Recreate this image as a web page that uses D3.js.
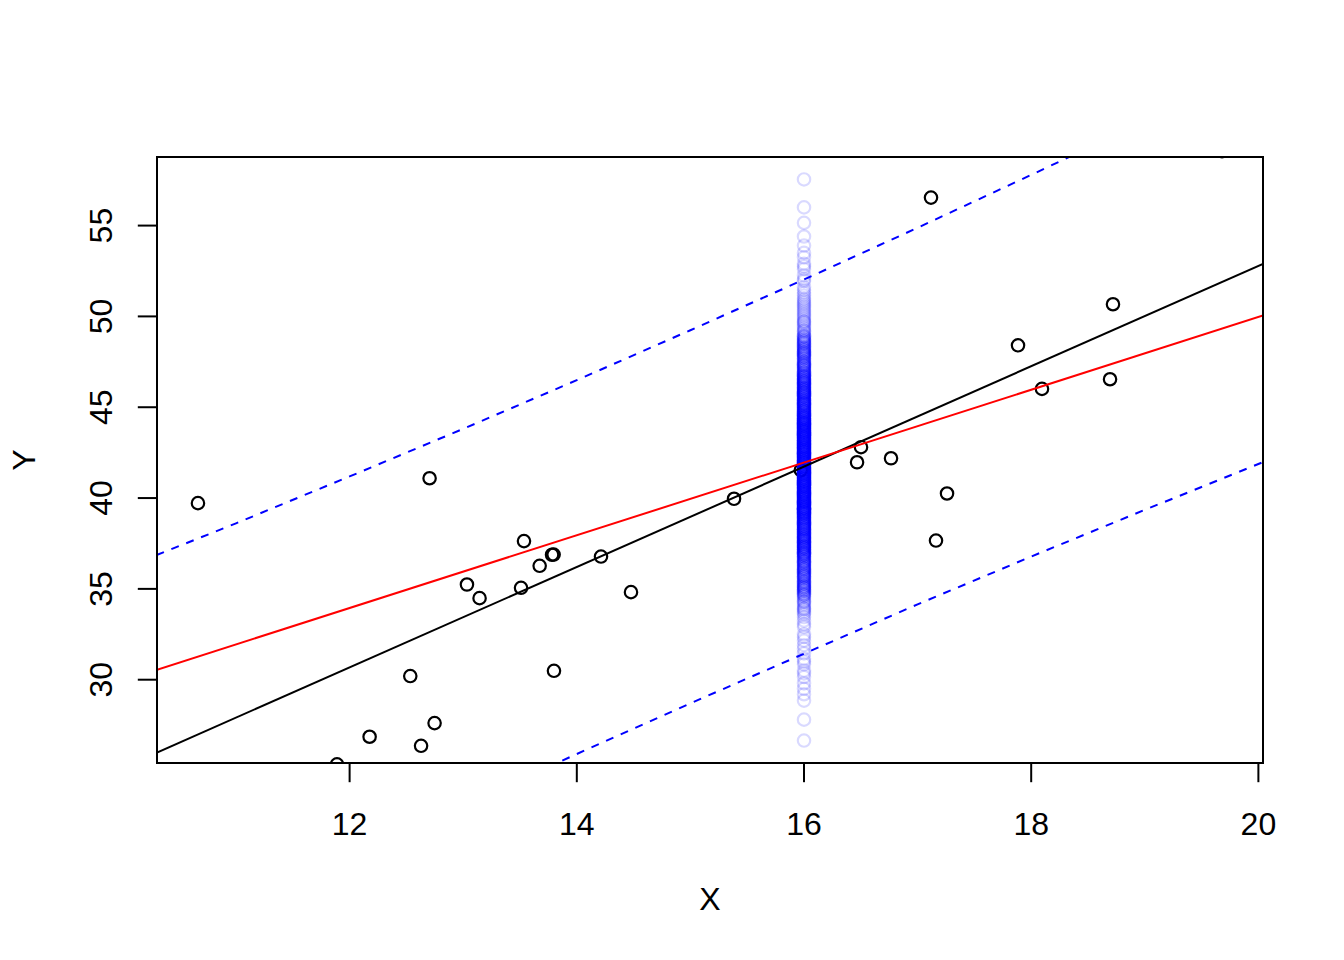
<!DOCTYPE html>
<html>
<head>
<meta charset="utf-8">
<script src="https://cdn.jsdelivr.net/npm/d3@7"></script>
<style>
html, body { margin: 0; padding: 0; background: #ffffff; }
svg { display: block; }
</style>
</head>
<body>
<svg id="chart" width="1344" height="960"></svg>
<script>
// ---------------- data ----------------
const obsX = [10.665, 12.704, 13.033, 13.144, 12.534, 12.176, 12.748, 12.629, 11.889, 13.535,
              13.509, 13.673, 13.782, 13.796, 14.213, 14.477, 13.799, 15.384, 15.972, 17.118,
              18.720, 17.884, 18.095, 18.694, 16.502, 16.467, 16.766, 17.259, 17.162, 19.680];
const obsY = [39.72, 41.09, 35.24, 34.49, 30.20, 26.86, 27.61, 26.36, 25.34, 37.63,
              35.06, 36.27, 36.88, 36.89, 36.78, 34.82, 30.49, 39.96, 41.54, 56.54,
              50.67, 48.41, 46.01, 46.54, 42.80, 41.97, 42.19, 40.25, 37.66, 59.10];

// imputed values, all drawn at X = 16 (value levels and how many points sit at each)
const imputedX = 16;
const imputedY = [
  33.6,33.7,33.8,33.9,34.0,34.1,34.2,34.3,34.4,34.5,34.6,
  34.7,34.8,34.9,35.0,35.1,35.2,35.3,35.4,35.5,35.6,35.7,35.8,35.9,36.0,36.1,36.2,36.3,36.4,36.5,36.6,36.7,36.8,
  36.9,37.0,37.1,37.2,37.3,37.4,37.5,37.6,37.7,37.8,37.9,38.0,38.1,38.2,38.3,38.4,38.5,38.6,38.7,38.8,38.9,39.0,39.1,
  39.2,39.3,39.4,39.5,39.6,39.7,39.8,39.9,40.0,40.1,40.2,40.3,40.4,40.5,40.6,40.7,40.8,40.9,41.0,41.1,41.2,41.3,41.4,41.5,41.6,41.7,41.8,41.9,
  42.0,42.1,42.2,42.3,42.4,42.5,42.6,42.7,42.8,42.9,43.0,43.1,43.2,43.3,43.4,43.5,43.6,43.7,43.8,43.9,44.0,44.1,44.2,44.3,44.4,
  44.5,44.6,44.7,44.8,44.9,45.0,45.1,45.2,45.3,45.4,45.5,45.6,45.7,45.8,45.9,46.0,46.1,46.2,46.3,46.4,46.5,46.6,46.7,
  46.8,46.9,47.0,47.1,47.2,47.3,47.4,47.5,47.6,47.7,47.8,47.9,48.0,48.1,48.2,48.3,48.4,48.5,48.6,48.7,48.8,48.9,
  49.0,49.1,49.2,49.3,49.4,49.5,49.6,49.7,49.8,49.9,50.0,50.1,50.2,50.3,50.4,50.5,50.6,50.7,50.8,50.9,51.0
];
const imputedCount = [
  1,1,1,2,1,1,1,2,1,1,2,
  3,2,3,3,4,3,3,3,2,3,4,3,3,3,4,3,3,3,4,3,3,4,
  5,5,4,5,6,5,5,5,5,6,5,5,4,5,6,5,5,6,5,5,6,5,6,
  7,7,8,7,6,7,8,7,7,7,8,7,7,6,7,8,7,7,7,8,7,7,7,8,7,7,6,7,
  8,7,7,7,8,7,7,7,8,7,6,7,7,8,7,7,7,8,7,7,7,8,7,6,7,
  6,5,5,6,5,5,5,6,5,5,4,5,5,6,5,5,5,4,5,5,5,4,5,
  3,4,3,3,3,4,3,3,2,3,3,3,4,3,3,3,2,3,3,3,2,3,
  1,1,2,1,1,1,1,2,1,1,1,1,1,1,1,1,1,1,1,1,1
];
const imputedTailY = [57.54, 56.00, 55.15, 54.40, 53.90, 53.50, 53.25, 52.90, 52.75, 52.60,
                      52.25, 52.05, 51.95, 51.60, 51.45, 51.30, 51.15,
                      26.65, 27.80, 28.85, 29.20, 29.50, 29.80, 30.15, 30.35, 30.50, 30.85,
                      31.00, 31.15, 31.45, 31.70, 31.90, 32.15, 32.35, 32.50, 32.90, 33.05, 33.25, 33.45];

// straight fitted lines (black and red)
const lineColors = ["#000000", "#ff0000"];
const lineIntercepts = [-2.478, 9.91];
const lineSlopes = [2.763, 2.003];

// dashed prediction band (blue)
const bandX = [10.3, 11, 12, 13, 14, 15, 16, 17, 18, 19, 20.05];
const bandUpper = [36.86, 38.61, 41.19, 43.81, 46.49, 49.24, 52.03, 54.88, 57.79, 60.74, 63.90];
const bandLower = [15.10, 17.21, 20.17, 23.07, 25.91, 28.70, 31.43, 34.15, 36.78, 39.35, 42.00];

const xTicks = [12, 14, 16, 18, 20];
const yTicks = [30, 35, 40, 45, 50, 55];
const xLabel = "X";
const yLabel = "Y";

// ---------------- layout ----------------
const W = 1344, H = 960;
const L = 157, R = 1263, T = 157, B = 763;
const FONT = "Arial, 'Liberation Sans', Helvetica, sans-serif";
const FS = 32;
const PR = 6.2;

const allImputed = imputedY.concat(imputedTailY);
const xr = d3.extent(obsX.concat([imputedX]));
const yr = d3.extent(allImputed);
const xPad = (xr[1] - xr[0]) * 0.04, yPad = (yr[1] - yr[0]) * 0.04;
const x = d3.scaleLinear().domain([xr[0] - xPad, xr[1] + xPad]).range([L, R]);
const y = d3.scaleLinear().domain([yr[0] - yPad, yr[1] + yPad]).range([B, T]);

const svg = d3.select("#chart");
svg.append("rect").attr("width", W).attr("height", H).attr("fill", "#ffffff");

svg.append("defs").append("clipPath").attr("id", "plotclip")
  .append("rect").attr("x", L).attr("y", T).attr("width", R - L).attr("height", B - T);

const plot = svg.append("g").attr("clip-path", "url(#plotclip)");

// observed points
plot.append("g").selectAll("circle").data(obsX.map((v, i) => [v, obsY[i]])).join("circle")
  .attr("cx", d => x(d[0])).attr("cy", d => y(d[1])).attr("r", PR)
  .attr("fill", "none").attr("stroke", "#000000").attr("stroke-width", 2.2);

// imputed points
const impPts = [];
imputedY.forEach((v, i) => { const n = imputedCount[i] || 0; for (let k = 0; k < n; k++) impPts.push(v); });
imputedTailY.forEach(v => impPts.push(v));
plot.append("g").selectAll("circle").data(impPts).join("circle")
  .attr("cx", x(imputedX)).attr("cy", d => y(d)).attr("r", PR)
  .attr("fill", "none").attr("stroke", "rgba(0,0,255,0.15)").attr("stroke-width", 2.2);

// fitted straight lines
const xd = x.domain();
lineIntercepts.forEach((a, i) => {
  const b = lineSlopes[i];
  plot.append("line")
    .attr("x1", x(xd[0])).attr("y1", y(a + b * xd[0]))
    .attr("x2", x(xd[1])).attr("y2", y(a + b * xd[1]))
    .attr("stroke", lineColors[i]).attr("stroke-width", 2);
});

// dashed band
const bandLine = d3.line().x(d => x(d[0])).y(d => y(d[1]));
[bandUpper, bandLower].forEach(arr => {
  plot.append("path").datum(bandX.map((v, i) => [v, arr[i]]))
    .attr("d", bandLine).attr("fill", "none").attr("stroke", "#0000ff")
    .attr("stroke-width", 2).attr("stroke-dasharray", "8,8");
});

// box
svg.append("rect").attr("x", L).attr("y", T).attr("width", R - L).attr("height", B - T)
  .attr("fill", "none").attr("stroke", "#000000").attr("stroke-width", 2);

// x axis
const TL = 19.2;
const gx = svg.append("g");
gx.append("line").attr("x1", x(xTicks[0])).attr("x2", x(xTicks[xTicks.length - 1]))
  .attr("y1", B).attr("y2", B).attr("stroke", "#000").attr("stroke-width", 2);
xTicks.forEach(t => {
  gx.append("line").attr("x1", x(t)).attr("x2", x(t)).attr("y1", B).attr("y2", B + TL)
    .attr("stroke", "#000").attr("stroke-width", 2);
  gx.append("text").attr("x", x(t)).attr("y", 834.5).attr("text-anchor", "middle")
    .attr("font-family", FONT).attr("font-size", FS).attr("fill", "#000").text(t);
});

// y axis
const gy = svg.append("g");
gy.append("line").attr("y1", y(yTicks[0])).attr("y2", y(yTicks[yTicks.length - 1]))
  .attr("x1", L).attr("x2", L).attr("stroke", "#000").attr("stroke-width", 2);
yTicks.forEach(t => {
  gy.append("line").attr("y1", y(t)).attr("y2", y(t)).attr("x1", L).attr("x2", L - TL)
    .attr("stroke", "#000").attr("stroke-width", 2);
  gy.append("text").attr("transform", `translate(111.5,${y(t)}) rotate(-90)`)
    .attr("text-anchor", "middle")
    .attr("font-family", FONT).attr("font-size", FS).attr("fill", "#000").text(t);
});

// axis titles
svg.append("text").attr("x", (L + R) / 2).attr("y", 910).attr("text-anchor", "middle")
  .attr("font-family", FONT).attr("font-size", FS).attr("fill", "#000").text(xLabel);
svg.append("text").attr("transform", `translate(35,${(T + B) / 2}) rotate(-90)`)
  .attr("text-anchor", "middle")
  .attr("font-family", FONT).attr("font-size", FS).attr("fill", "#000").text(yLabel);
</script>
</body>
</html>
